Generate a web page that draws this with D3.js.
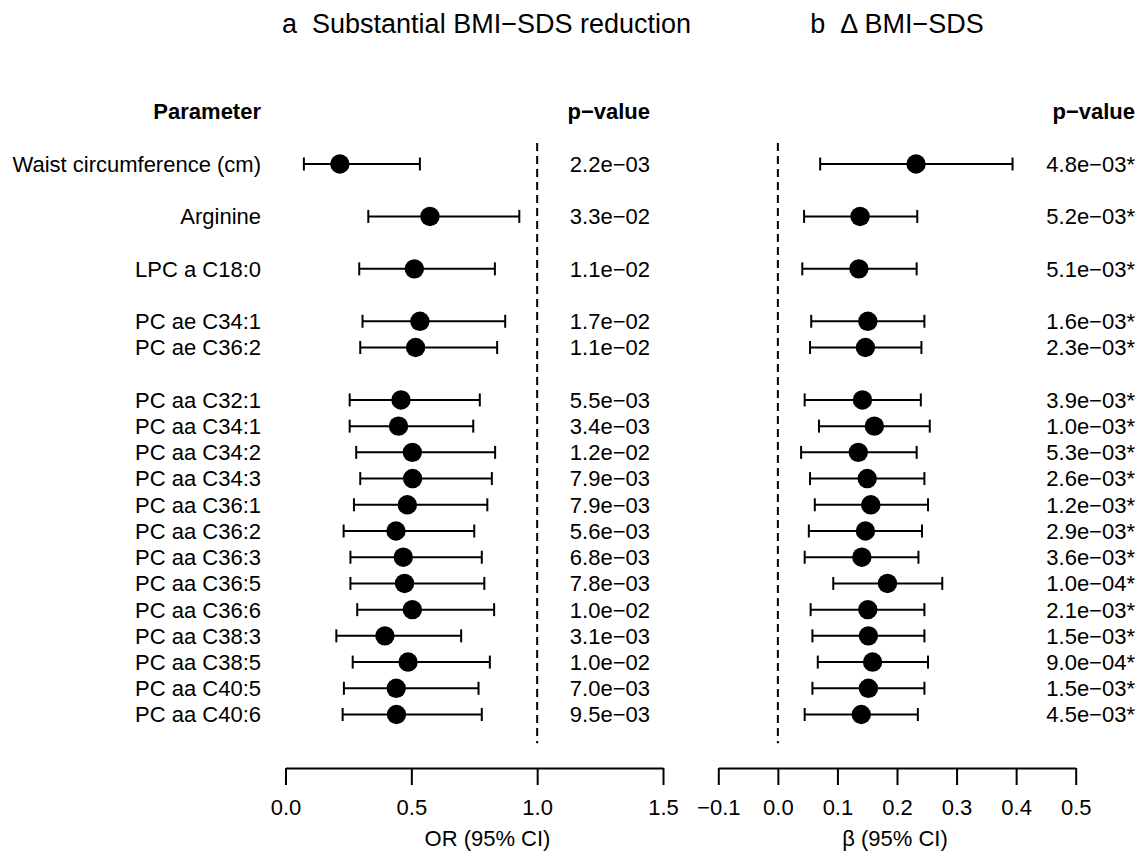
<!DOCTYPE html>
<html>
<head>
<meta charset="utf-8">
<script src="https://cdn.jsdelivr.net/npm/d3@7"></script>
<style>
  html, body { margin: 0; padding: 0; background: #fff; }
  svg { display: block; font-family: "Liberation Sans", Arial, sans-serif; }
</style>
</head>
<body>
<svg id="chart" width="1138" height="851"></svg>
<script>
// Parameters associated with BMI-SDS change, grouped by block (a blank row separates blocks)
const parameters = [
  "Waist circumference (cm)", "Arginine", "LPC a C18:0",
  "PC ae C34:1", "PC ae C36:2",
  "PC aa C32:1", "PC aa C34:1", "PC aa C34:2", "PC aa C34:3", "PC aa C36:1",
  "PC aa C36:2", "PC aa C36:3", "PC aa C36:5", "PC aa C36:6", "PC aa C38:3",
  "PC aa C38:5", "PC aa C40:5", "PC aa C40:6"
];
const blocks = [0, 1, 2, 3, 3, 4, 4, 4, 4, 4, 4, 4, 4, 4, 4, 4, 4, 4];

// Panel a: odds ratios for substantial BMI-SDS reduction
const orEstimate = [0.216, 0.574, 0.512, 0.534, 0.517, 0.459, 0.449, 0.504, 0.505, 0.484, 0.439, 0.468, 0.473, 0.504, 0.395, 0.487, 0.440, 0.441];
const orLower    = [0.073, 0.329, 0.293, 0.306, 0.297, 0.255, 0.255, 0.281, 0.297, 0.272, 0.231, 0.258, 0.258, 0.285, 0.202, 0.267, 0.232, 0.227];
const orUpper    = [0.534, 0.929, 0.832, 0.873, 0.841, 0.772, 0.746, 0.833, 0.820, 0.802, 0.750, 0.780, 0.790, 0.829, 0.698, 0.812, 0.767, 0.780];
const orPValues  = ["2.2e\u221203", "3.3e\u221202", "1.1e\u221202", "1.7e\u221202", "1.1e\u221202", "5.5e\u221203", "3.4e\u221203", "1.2e\u221202", "7.9e\u221203", "7.9e\u221203", "5.6e\u221203", "6.8e\u221203", "7.8e\u221203", "1.0e\u221202", "3.1e\u221203", "1.0e\u221202", "7.0e\u221203", "9.5e\u221203"];

// Panel b: regression coefficients for change in BMI-SDS
const betaEstimate = [0.232, 0.138, 0.136, 0.151, 0.147, 0.142, 0.162, 0.135, 0.150, 0.156, 0.147, 0.141, 0.184, 0.151, 0.152, 0.159, 0.152, 0.140];
const betaLower    = [0.071, 0.044, 0.041, 0.056, 0.054, 0.045, 0.069, 0.039, 0.054, 0.062, 0.052, 0.045, 0.093, 0.055, 0.058, 0.067, 0.058, 0.045];
const betaUpper    = [0.394, 0.234, 0.233, 0.246, 0.241, 0.240, 0.255, 0.233, 0.246, 0.252, 0.242, 0.236, 0.276, 0.246, 0.246, 0.252, 0.246, 0.235];
const betaPValues  = ["4.8e\u221203*", "5.2e\u221203*", "5.1e\u221203*", "1.6e\u221203*", "2.3e\u221203*", "3.9e\u221203*", "1.0e\u221203*", "5.3e\u221203*", "2.6e\u221203*", "1.2e\u221203*", "2.9e\u221203*", "3.6e\u221203*", "1.0e\u221204*", "2.1e\u221203*", "1.5e\u221203*", "9.0e\u221204*", "1.5e\u221203*", "4.5e\u221203*"];

const orTicks = [0, 0.5, 1.0, 1.5];
const betaTicks = [-0.1, 0, 0.1, 0.2, 0.3, 0.4, 0.5];

const svg = d3.select("#chart");
svg.append("rect").attr("width", 1138).attr("height", 851).attr("fill", "#fff");

const FS = 22;
const rows = parameters.map((p, i) => i + blocks[i]);
const y = d3.scaleLinear().domain([0, 21]).range([164, 714.5]);
const xOR = d3.scaleLinear().domain([0, 1.5]).range([285.5, 663]);
const xBeta = d3.scaleLinear().domain([-0.1, 0.5]).range([718.3, 1075.7]);
const capOffset = FS * 0.36;   // shifts text so digits/caps are centred on a row
const axisY = 768;

// Panel titles
svg.append("text").attr("x", 486.5).attr("y", 33).attr("text-anchor", "middle")
  .attr("font-size", 27).text("a\u00A0\u00A0Substantial BMI\u2212SDS reduction");
svg.append("text").attr("x", 897).attr("y", 33).attr("text-anchor", "middle")
  .attr("font-size", 27).text("b\u00A0\u00A0\u0394 BMI\u2212SDS");

// Column headers
const headerY = y(-2) + capOffset;
svg.append("text").attr("x", 261).attr("y", headerY).attr("text-anchor", "end")
  .attr("font-size", FS).attr("font-weight", "bold").text("Parameter");
svg.append("text").attr("x", 650).attr("y", headerY).attr("text-anchor", "end")
  .attr("font-size", FS).attr("font-weight", "bold").text("p\u2212value");
svg.append("text").attr("x", 1135).attr("y", headerY).attr("text-anchor", "end")
  .attr("font-size", FS).attr("font-weight", "bold").text("p\u2212value");

// Row labels
svg.append("g").selectAll("text").data(parameters).join("text")
  .attr("x", 261).attr("y", (d, i) => y(rows[i]) + capOffset)
  .attr("text-anchor", "end").attr("font-size", FS).text(d => d);

function drawPanel(x, est, lo, hi, pvals, refValue, pX, ticks) {
  const g = svg.append("g");
  // reference line
  g.append("line")
    .attr("x1", x(refValue)).attr("x2", x(refValue))
    .attr("y1", y(-0.8)).attr("y2", y(22.1))
    .attr("stroke", "#000").attr("stroke-width", 2).attr("stroke-dasharray", "8,5");

  const rowsG = g.selectAll("g.row").data(est).join("g").attr("class", "row")
    .attr("transform", (d, i) => `translate(0,${y(rows[i])})`);
  rowsG.append("line")
    .attr("x1", (d, i) => x(lo[i])).attr("x2", (d, i) => x(hi[i]))
    .attr("stroke", "#000").attr("stroke-width", 2);
  rowsG.append("line")
    .attr("x1", (d, i) => x(lo[i])).attr("x2", (d, i) => x(lo[i]))
    .attr("y1", -6.5).attr("y2", 6.5).attr("stroke", "#000").attr("stroke-width", 2);
  rowsG.append("line")
    .attr("x1", (d, i) => x(hi[i])).attr("x2", (d, i) => x(hi[i]))
    .attr("y1", -6.5).attr("y2", 6.5).attr("stroke", "#000").attr("stroke-width", 2);
  rowsG.append("circle")
    .attr("cx", d => x(d)).attr("cy", 0).attr("r", 9.7).attr("fill", "#000");

  // p-values
  g.append("g").selectAll("text").data(pvals).join("text")
    .attr("x", pX).attr("y", (d, i) => y(rows[i]) + capOffset)
    .attr("text-anchor", "end").attr("font-size", FS).text(d => d);

  // x axis
  const axis = d3.axisBottom(x).tickValues(ticks).tickFormat(d3.format(".1f"))
    .tickSize(17).tickSizeOuter(0).tickPadding(14);
  const ag = g.append("g").attr("transform", `translate(0,${axisY})`).call(axis);
  ag.select(".domain").attr("stroke-width", 2);
  ag.selectAll(".tick line").attr("stroke-width", 2);
  ag.selectAll(".tick text").attr("font-size", FS).attr("font-family", "Liberation Sans, Arial, sans-serif").attr("fill", "#000");
  return g;
}

drawPanel(xOR, orEstimate, orLower, orUpper, orPValues, 1, 650, orTicks);
drawPanel(xBeta, betaEstimate, betaLower, betaUpper, betaPValues, 0, 1135, betaTicks);

// Axis titles
svg.append("text").attr("x", 487.5).attr("y", 846).attr("text-anchor", "middle")
  .attr("font-size", FS).text("OR (95% CI)");
svg.append("text").attr("x", 895).attr("y", 846).attr("text-anchor", "middle")
  .attr("font-size", FS).text("\u03B2 (95% CI)");
</script>
</body>
</html>
